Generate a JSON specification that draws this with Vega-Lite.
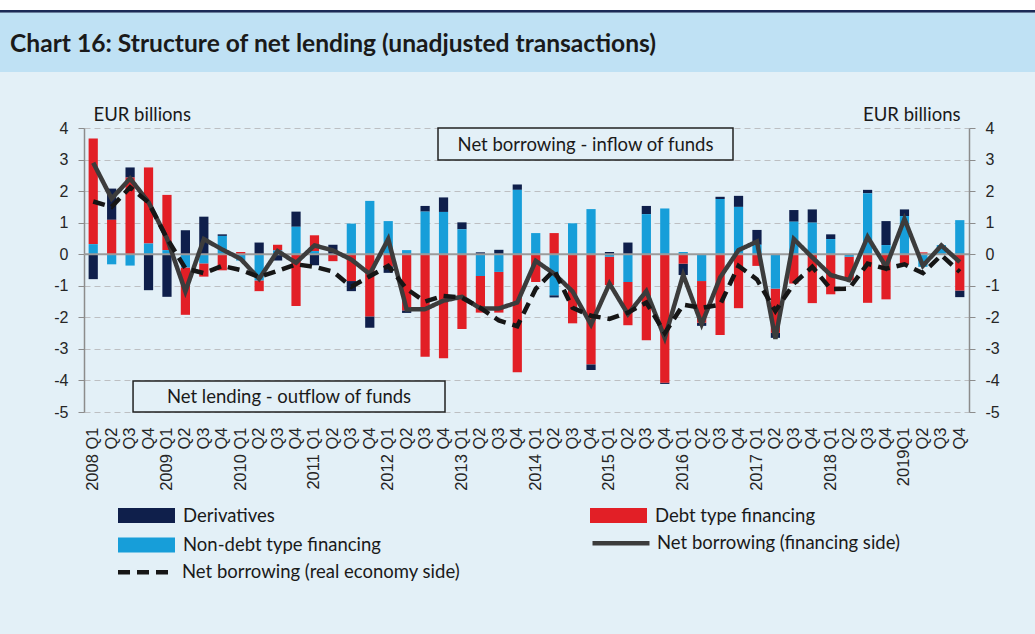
{
  "$schema": "https://vega.github.io/schema/vega-lite/v6.json",
  "width": 885,
  "height": 284,
  "autosize": {"type": "none"},
  "padding": {"left": 84, "top": 128, "right": 66, "bottom": 222},
  "background": "#e3f0f7",
  "config": {
    "view": {"stroke": null},
    "font": "Lato",
    "axisY": {"tickCount": 10, "labelExpr": "'' + datum.value", "labelOverlap": false, "labelFont": "Liberation Sans", "labelFontSize": 16, "labelColor": "#262626", "labelPadding": 10, "tickSize": 6, "tickColor": "#8c8c8c", "domainColor": "#8c8c8c", "domainWidth": 1.5,
      "titleAngle": 0, "titleBaseline": "alphabetic", "titleY": -8, "titleFont": "Lato", "titleFontSize": 18.5, "titleFontWeight": "normal", "titleColor": "#1a1a1a"},
    "axisLeft": {"titleAlign": "left", "titleX": 9},
    "axisRight": {"titleAlign": "right", "titleX": -9}
  },
  "datasets": {
    "q": [
      {"p": "2008 Q1", "Derivatives": -0.79, "Debt type financing": 3.35, "Non-debt type financing": 0.32, "fin": 2.9, "real": 1.67},
      {"p": "2008 Q2", "Derivatives": 0.99, "Debt type financing": 1.09, "Non-debt type financing": -0.32, "fin": 1.76, "real": 1.5},
      {"p": "2008 Q3", "Derivatives": 0.32, "Debt type financing": 2.43, "Non-debt type financing": -0.36, "fin": 2.4, "real": 2.12},
      {"p": "2008 Q4", "Derivatives": -1.14, "Debt type financing": 2.41, "Non-debt type financing": 0.34, "fin": 1.65, "real": 1.64},
      {"p": "2009 Q1", "Derivatives": -1.35, "Debt type financing": 1.75, "Non-debt type financing": 0.13, "fin": 0.5, "real": 0.5},
      {"p": "2009 Q2", "Derivatives": 0.76, "Debt type financing": -1.5, "Non-debt type financing": -0.42, "fin": -1.18, "real": -0.45},
      {"p": "2009 Q3", "Derivatives": 1.19, "Debt type financing": -0.42, "Non-debt type financing": -0.29, "fin": 0.48, "real": -0.6},
      {"p": "2009 Q4", "Derivatives": 0.05, "Debt type financing": -0.51, "Non-debt type financing": 0.58, "fin": 0.15, "real": -0.37},
      {"p": "2010 Q1", "Derivatives": 0, "Debt type financing": 0.07, "Non-debt type financing": -0.2, "fin": -0.15, "real": -0.5},
      {"p": "2010 Q2", "Derivatives": 0.37, "Debt type financing": -0.34, "Non-debt type financing": -0.83, "fin": -0.78, "real": -0.72},
      {"p": "2010 Q3", "Derivatives": -0.2, "Debt type financing": 0.18, "Non-debt type financing": 0.12, "fin": 0.1, "real": -0.53},
      {"p": "2010 Q4", "Derivatives": 0.48, "Debt type financing": -1.64, "Non-debt type financing": 0.87, "fin": -0.27, "real": -0.32},
      {"p": "2011 Q1", "Derivatives": -0.35, "Debt type financing": 0.5, "Non-debt type financing": 0.1, "fin": 0.28, "real": -0.4},
      {"p": "2011 Q2", "Derivatives": 0.3, "Debt type financing": -0.22, "Non-debt type financing": 0, "fin": 0.12, "real": -0.55},
      {"p": "2011 Q3", "Derivatives": -0.32, "Debt type financing": -0.85, "Non-debt type financing": 0.97, "fin": -0.17, "real": -1.03},
      {"p": "2011 Q4", "Derivatives": -0.36, "Debt type financing": -1.97, "Non-debt type financing": 1.69, "fin": -0.63, "real": -0.7},
      {"p": "2012 Q1", "Derivatives": -0.21, "Debt type financing": -0.38, "Non-debt type financing": 1.05, "fin": 0.48, "real": -0.37},
      {"p": "2012 Q2", "Derivatives": -0.08, "Debt type financing": -1.78, "Non-debt type financing": 0.13, "fin": -1.75, "real": -1.1},
      {"p": "2012 Q3", "Derivatives": 0.18, "Debt type financing": -3.25, "Non-debt type financing": 1.35, "fin": -1.74, "real": -1.5},
      {"p": "2012 Q4", "Derivatives": 0.46, "Debt type financing": -3.3, "Non-debt type financing": 1.34, "fin": -1.47, "real": -1.32},
      {"p": "2013 Q1", "Derivatives": 0.22, "Debt type financing": -2.37, "Non-debt type financing": 0.79, "fin": -1.35, "real": -1.38},
      {"p": "2013 Q2", "Derivatives": 0.06, "Debt type financing": -1.16, "Non-debt type financing": -0.69, "fin": -1.72, "real": -1.7},
      {"p": "2013 Q3", "Derivatives": 0.14, "Debt type financing": -1.29, "Non-debt type financing": -0.56, "fin": -1.72, "real": -2.1},
      {"p": "2013 Q4", "Derivatives": 0.17, "Debt type financing": -3.74, "Non-debt type financing": 2.04, "fin": -1.53, "real": -2.28},
      {"p": "2014 Q1", "Derivatives": 0, "Debt type financing": -0.88, "Non-debt type financing": 0.67, "fin": -0.21, "real": -1.1},
      {"p": "2014 Q2", "Derivatives": -0.07, "Debt type financing": 0.67, "Non-debt type financing": -1.3, "fin": -0.62, "real": -0.5},
      {"p": "2014 Q3", "Derivatives": 0, "Debt type financing": -2.19, "Non-debt type financing": 0.98, "fin": -1.18, "real": -1.7},
      {"p": "2014 Q4", "Derivatives": -0.18, "Debt type financing": -3.49, "Non-debt type financing": 1.43, "fin": -2.23, "real": -1.95},
      {"p": "2015 Q1", "Derivatives": 0.07, "Debt type financing": -0.9, "Non-debt type financing": -0.08, "fin": -0.93, "real": -2.05},
      {"p": "2015 Q2", "Derivatives": 0.37, "Debt type financing": -1.37, "Non-debt type financing": -0.88, "fin": -1.9, "real": -1.85},
      {"p": "2015 Q3", "Derivatives": 0.26, "Debt type financing": -2.73, "Non-debt type financing": 1.27, "fin": -1.17, "real": -1.53},
      {"p": "2015 Q4", "Derivatives": -0.04, "Debt type financing": -4.07, "Non-debt type financing": 1.45, "fin": -2.65, "real": -2.5},
      {"p": "2016 Q1", "Derivatives": -0.36, "Debt type financing": -0.3, "Non-debt type financing": 0.07, "fin": -0.65, "real": -1.6},
      {"p": "2016 Q2", "Derivatives": -0.1, "Debt type financing": -1.32, "Non-debt type financing": -0.85, "fin": -2.22, "real": -1.7},
      {"p": "2016 Q3", "Derivatives": 0.07, "Debt type financing": -2.56, "Non-debt type financing": 1.75, "fin": -0.74, "real": -1.6},
      {"p": "2016 Q4", "Derivatives": 0.35, "Debt type financing": -1.71, "Non-debt type financing": 1.5, "fin": 0.13, "real": -0.37},
      {"p": "2017 Q1", "Derivatives": 0.47, "Debt type financing": -0.37, "Non-debt type financing": 0.3, "fin": 0.4, "real": -0.8},
      {"p": "2017 Q2", "Derivatives": -0.16, "Debt type financing": -1.4, "Non-debt type financing": -1.09, "fin": -2.68, "real": -1.8},
      {"p": "2017 Q3", "Derivatives": 0.37, "Debt type financing": -0.93, "Non-debt type financing": 1.03, "fin": 0.48, "real": -0.93},
      {"p": "2017 Q4", "Derivatives": 0.42, "Debt type financing": -1.55, "Non-debt type financing": 1.0, "fin": -0.1, "real": -0.4},
      {"p": "2018 Q1", "Derivatives": 0.15, "Debt type financing": -1.27, "Non-debt type financing": 0.48, "fin": -0.66, "real": -1.1},
      {"p": "2018 Q2", "Derivatives": 0, "Debt type financing": -0.75, "Non-debt type financing": -0.08, "fin": -0.82, "real": -1.09},
      {"p": "2018 Q3", "Derivatives": 0.11, "Debt type financing": -1.54, "Non-debt type financing": 1.93, "fin": 0.55, "real": -0.3},
      {"p": "2018 Q4", "Derivatives": 0.76, "Debt type financing": -1.43, "Non-debt type financing": 0.29, "fin": -0.4, "real": -0.46},
      {"p": "2019 Q1", "Derivatives": 0.21, "Debt type financing": -0.32, "Non-debt type financing": 1.21, "fin": 1.12, "real": -0.32},
      {"p": "2019 Q2", "Derivatives": 0, "Debt type financing": 0.06, "Non-debt type financing": -0.4, "fin": -0.37, "real": -0.6},
      {"p": "2019 Q3", "Derivatives": 0, "Debt type financing": 0, "Non-debt type financing": 0.29, "fin": 0.28, "real": -0.03},
      {"p": "2019 Q4", "Derivatives": -0.21, "Debt type financing": -1.15, "Non-debt type financing": 1.08, "fin": -0.25, "real": -0.56}
    ],
    "stackOrder": [
      {"key": "Non-debt type financing", "rank": 1},
      {"key": "Debt type financing", "rank": 2},
      {"key": "Derivatives", "rank": 3}
    ]
  },
  "layer": [
    {
      "data": {"values": [{}]},
      "layer": [
        {
          "mark": {"type": "rect", "color": "#ffffff"},
          "encoding": {
            "x": {"datum": -5, "type": "quantitative", "scale": {"domain": [0, 48], "nice": false, "zero": false}, "axis": null},
            "x2": {"datum": 53},
            "y": {"datum": 8.4, "type": "quantitative", "scale": {"domain": [-5, 4], "nice": false, "zero": false}, "axis": null},
            "y2": {"datum": 7.739}
          }
        },
        {
          "mark": {"type": "rect", "color": "#1c2a56"},
          "encoding": {
            "x": {"datum": -5, "type": "quantitative", "axis": null},
            "x2": {"datum": 53},
            "y": {"datum": 7.739, "type": "quantitative", "axis": null},
            "y2": {"datum": 7.654}
          }
        },
        {
          "mark": {"type": "rect", "color": "#bfe1f4"},
          "encoding": {
            "x": {"datum": -5, "type": "quantitative", "axis": null},
            "x2": {"datum": 53},
            "y": {"datum": 7.654, "type": "quantitative", "axis": null},
            "y2": {"datum": 5.775}
          }
        },
        {
          "mark": {"type": "text", "align": "left", "baseline": "middle", "font": "Lato", "fontSize": 24.6, "fontWeight": "bold", "color": "#1a1a1a"},
          "encoding": {
            "x": {"datum": -4.01, "type": "quantitative", "axis": null},
            "y": {"datum": 6.63, "type": "quantitative", "axis": null},
            "text": {"value": "Chart 16: Structure of net lending (unadjusted transactions)"}
          }
        },
        {
          "mark": {"type": "rect", "fill": "#e3f0f7", "stroke": "#222222", "strokeWidth": 1.5},
          "encoding": {
            "x": {"datum": 19.2, "type": "quantitative", "axis": null},
            "x2": {"datum": 35.2},
            "y": {"datum": 4.0, "type": "quantitative", "axis": null},
            "y2": {"datum": 2.986}
          }
        },
        {
          "mark": {"type": "rect", "fill": "#e3f0f7", "stroke": "#222222", "strokeWidth": 1.5},
          "encoding": {
            "x": {"datum": 2.66, "type": "quantitative", "axis": null},
            "x2": {"datum": 19.58},
            "y": {"datum": -4.017, "type": "quantitative", "axis": null},
            "y2": {"datum": -5.0}
          }
        },
        {
          "mark": {"type": "text", "align": "center", "baseline": "middle", "font": "Lato", "fontSize": 18.5, "color": "#1a1a1a"},
          "encoding": {
            "x": {"datum": 27.2, "type": "quantitative", "axis": null},
            "y": {"datum": 3.46, "type": "quantitative", "axis": null},
            "text": {"value": "Net borrowing - inflow of funds"}
          }
        },
        {
          "mark": {"type": "text", "align": "center", "baseline": "middle", "font": "Lato", "fontSize": 18.5, "color": "#1a1a1a"},
          "encoding": {
            "x": {"datum": 11.12, "type": "quantitative", "axis": null},
            "y": {"datum": -4.52, "type": "quantitative", "axis": null},
            "text": {"value": "Net lending - outflow of funds"}
          }
        }
      ]
    },
    {
      "data": {"name": "q"},
      "layer": [
        {
          "transform": [
            {"fold": ["Derivatives", "Debt type financing", "Non-debt type financing"]},
            {"lookup": "key", "from": {"data": {"name": "stackOrder"}, "key": "key", "fields": ["rank"]}}
          ],
          "mark": {"type": "bar"},
          "encoding": {
            "x": {"field": "p", "type": "ordinal", "sort": null, "scale": {"paddingInner": 0.5, "paddingOuter": 0.25},
              "axis": {"title": null, "labelAngle": -90, "labelFont": "Liberation Sans", "labelFontSize": 16.5, "labelColor": "#262626", "ticks": false, "domain": false, "grid": false, "labelPadding": 15, "labelOverlap": false, "labelBound": false,
                "labelExpr": "slice(datum.value, 5) == 'Q1' ? (datum.value == '2019 Q1' ? '2019Q1' : datum.value) : slice(datum.value, 5)"}},
            "y": {"field": "value", "type": "quantitative", "stack": "zero", "scale": {"domain": [-5, 4], "nice": false, "zero": false},
              "axis": {"title": "EUR billions", "grid": true, "gridColor": "#bdbfc2", "gridDash": [6, 4], "gridWidth": 1.2}},
            "color": {"field": "key", "type": "nominal",
              "scale": {"domain": ["Derivatives", "Debt type financing", "Non-debt type financing"],
                "range": ["#0f1f4b", "#e21f26", "#179ed9"]},
              "legend": {"orient": "none", "legendX": 48, "legendY": 373, "direction": "horizontal", "columns": 2, "title": null, "padding": 0, "columnPadding": 209, "rowPadding": 5.5,
                "symbolSize": 812, "symbolType": "M-2,-0.53H2V0.53H-2Z", "symbolStrokeWidth": 0, "symbolOpacity": 1,
                "labelFont": "Lato", "labelFontSize": 18.5, "labelColor": "#1a1a1a", "labelOffset": 22, "labelLimit": 400}},
            "order": {"field": "rank", "type": "quantitative", "sort": "ascending"}
          }
        },
        {
          "data": {"values": [{}]},
          "mark": {"type": "rule", "color": "#9b9b9b", "strokeWidth": 2},
          "encoding": {"y": {"datum": 0, "type": "quantitative", "axis": {"title": "EUR billions", "grid": true, "gridColor": "#bdbfc2", "gridDash": [6, 4], "gridWidth": 1.2}}}
        },
        {
          "mark": {"type": "line", "strokeWidth": 4.5, "color": "#3c3c3c"},
          "encoding": {
            "x": {"field": "p", "type": "ordinal", "sort": null},
            "y": {"field": "fin", "type": "quantitative", "axis": {"title": "EUR billions", "grid": true, "gridColor": "#bdbfc2", "gridDash": [6, 4], "gridWidth": 1.2}},
            "strokeDash": {"datum": "Net borrowing (financing side)", "type": "nominal", "scale": {"range": [[1, 0]]},
              "legend": {"orient": "none", "legendX": 520.5, "legendY": 398.75, "title": null, "padding": 0,
                "symbolSize": 812, "symbolType": "M-2,0H2", "symbolStrokeWidth": 4.5, "symbolStrokeColor": "#3c3c3c", "symbolOpacity": 1,
                "labelFont": "Lato", "labelFontSize": 18.5, "labelColor": "#1a1a1a", "labelOffset": 19.5, "labelLimit": 400}}
          }
        },
        {
          "mark": {"type": "line", "strokeWidth": 4.5, "color": "#161616"},
          "encoding": {
            "x": {"field": "p", "type": "ordinal", "sort": null},
            "y": {"field": "real", "type": "quantitative", "axis": {"title": "EUR billions", "grid": true, "gridColor": "#bdbfc2", "gridDash": [6, 4], "gridWidth": 1.2}},
            "strokeDash": {"datum": "Net borrowing (real economy side)", "type": "nominal", "scale": {"range": [[12, 7]]},
              "legend": {"orient": "none", "legendX": 46, "legendY": 427.75, "title": null, "padding": 0,
                "symbolSize": 812, "symbolType": "M-2,0H2", "symbolStrokeWidth": 4.5, "symbolStrokeColor": "#161616", "symbolOpacity": 1,
                "labelFont": "Lato", "labelFontSize": 18.5, "labelColor": "#1a1a1a", "labelOffset": 19, "labelLimit": 400}}
          }
        }
      ],
      "resolve": {"scale": {"strokeDash": "independent"}}
    },
    {
      "data": {"values": [{}]},
      "mark": {"type": "rule", "opacity": 0},
      "encoding": {
        "y": {"datum": 0, "type": "quantitative", "scale": {"domain": [-5, 4], "nice": false, "zero": false},
          "axis": {"orient": "right", "title": "EUR billions", "grid": false}}
      }
    }
  ],
  "resolve": {"scale": {"x": "independent", "y": "independent"}}
}
